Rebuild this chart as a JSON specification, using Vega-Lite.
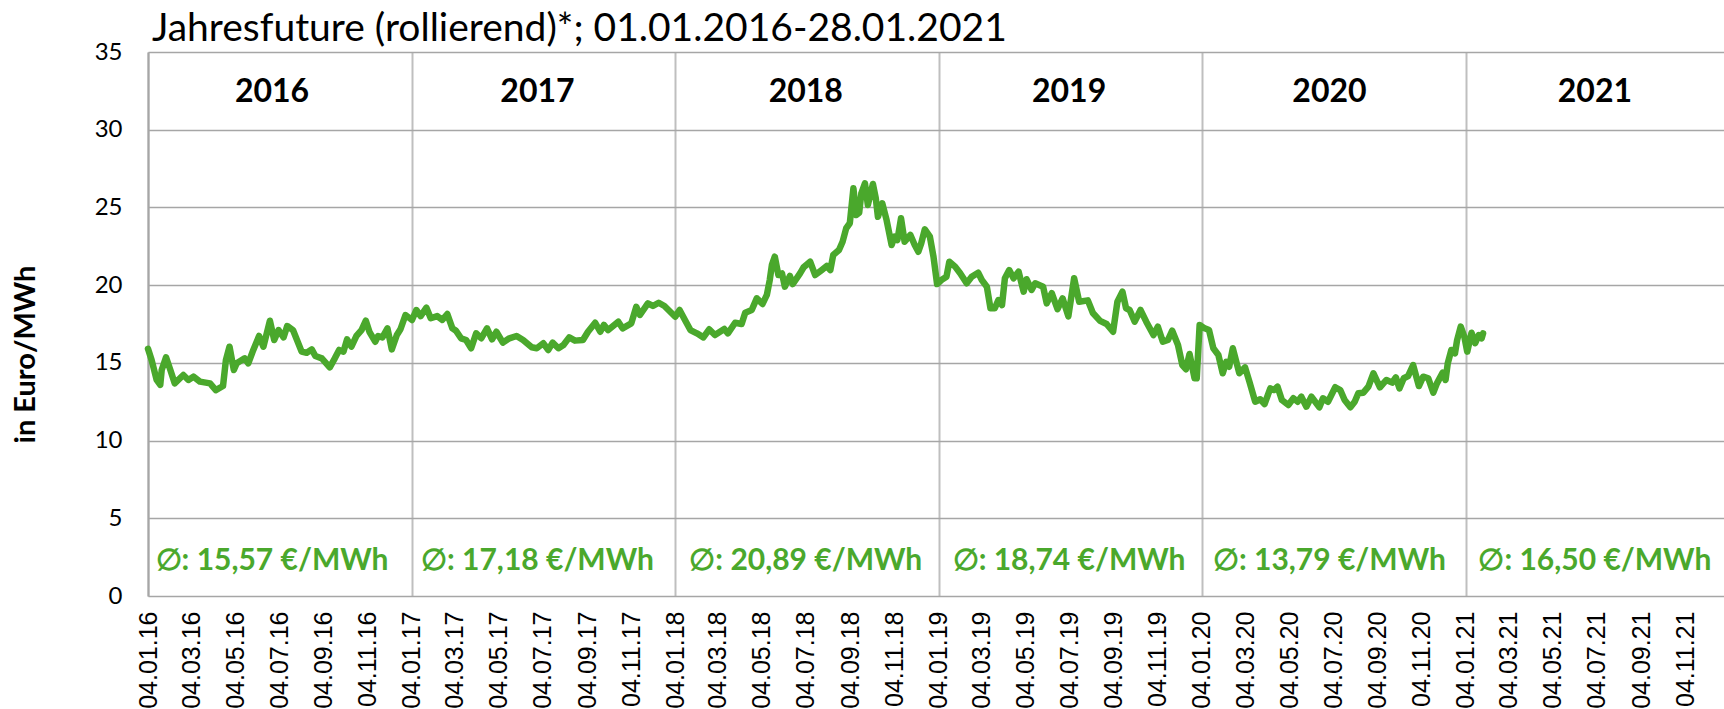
{
  "$schema": "https://vega.github.io/schema/vega-lite/v6.json",
  "width": 1576,
  "height": 544,
  "autosize": "none",
  "padding": {"left": 148, "top": 52, "right": 0, "bottom": 113},
  "background": "white",
  "config": {"view": {"stroke": null}},
  "title": {"text": "Jahresfuture (rollierend)*; 01.01.2016-28.01.2021", "anchor": "start", "frame": "group", "font": "Lato", "fontSize": 39, "fontWeight": "normal", "color": "#000000", "offset": 5, "dx": 4, "dy": 14},
  "datasets": {
    "prices": [
      {"date":"2016-01-04","price":15.9},{"date":"2016-01-09","price":15.18},{"date":"2016-01-16","price":13.9},{"date":"2016-01-21","price":13.58},{"date":"2016-01-23","price":14.54},{"date":"2016-01-29","price":15.36},{"date":"2016-02-04","price":14.54},{"date":"2016-02-10","price":13.68},{"date":"2016-02-22","price":14.22},{"date":"2016-02-29","price":13.9},{"date":"2016-03-07","price":14.11},{"date":"2016-03-16","price":13.79},{"date":"2016-03-30","price":13.68},{"date":"2016-04-07","price":13.25},{"date":"2016-04-17","price":13.51},{"date":"2016-04-21","price":15.18},{"date":"2016-04-26","price":16.04},{"date":"2016-05-02","price":14.54},{"date":"2016-05-06","price":14.97},{"date":"2016-05-17","price":15.29},{"date":"2016-05-22","price":14.97},{"date":"2016-05-29","price":15.83},{"date":"2016-06-06","price":16.73},{"date":"2016-06-12","price":16.04},{"date":"2016-06-21","price":17.71},{"date":"2016-06-27","price":16.47},{"date":"2016-07-03","price":17.11},{"date":"2016-07-10","price":16.64},{"date":"2016-07-15","price":17.37},{"date":"2016-07-23","price":17.11},{"date":"2016-08-04","price":15.72},{"date":"2016-08-11","price":15.65},{"date":"2016-08-18","price":15.87},{"date":"2016-08-23","price":15.44},{"date":"2016-09-01","price":15.29},{"date":"2016-09-12","price":14.71},{"date":"2016-09-19","price":15.29},{"date":"2016-09-25","price":15.83},{"date":"2016-10-01","price":15.72},{"date":"2016-10-06","price":16.51},{"date":"2016-10-12","price":16.04},{"date":"2016-10-19","price":16.73},{"date":"2016-10-26","price":17.11},{"date":"2016-11-01","price":17.71},{"date":"2016-11-06","price":17.0},{"date":"2016-11-14","price":16.36},{"date":"2016-11-18","price":16.73},{"date":"2016-11-24","price":16.64},{"date":"2016-12-01","price":17.22},{"date":"2016-12-07","price":15.87},{"date":"2016-12-14","price":16.79},{"date":"2016-12-19","price":17.16},{"date":"2016-12-26","price":18.08},
      {"date":"2017-01-04","price":17.76},{"date":"2017-01-10","price":18.4},{"date":"2017-01-16","price":18.01},{"date":"2017-01-24","price":18.55},{"date":"2017-01-30","price":17.87},{"date":"2017-02-08","price":18.01},{"date":"2017-02-15","price":17.76},{"date":"2017-02-22","price":18.14},{"date":"2017-03-01","price":17.22},{"date":"2017-03-06","price":17.07},{"date":"2017-03-13","price":16.58},{"date":"2017-03-20","price":16.47},{"date":"2017-03-27","price":15.94},{"date":"2017-04-03","price":16.9},{"date":"2017-04-10","price":16.58},{"date":"2017-04-18","price":17.22},{"date":"2017-04-25","price":16.51},{"date":"2017-05-01","price":17.0},{"date":"2017-05-10","price":16.3},{"date":"2017-05-19","price":16.58},{"date":"2017-05-29","price":16.73},{"date":"2017-06-07","price":16.47},{"date":"2017-06-19","price":16.0},{"date":"2017-06-26","price":15.94},{"date":"2017-07-05","price":16.26},{"date":"2017-07-12","price":15.83},{"date":"2017-07-18","price":16.3},{"date":"2017-07-26","price":15.94},{"date":"2017-08-02","price":16.15},{"date":"2017-08-10","price":16.64},{"date":"2017-08-18","price":16.43},{"date":"2017-08-29","price":16.47},{"date":"2017-09-05","price":17.0},{"date":"2017-09-15","price":17.58},{"date":"2017-09-22","price":17.0},{"date":"2017-09-27","price":17.44},{"date":"2017-10-03","price":17.11},{"date":"2017-10-17","price":17.65},{"date":"2017-10-23","price":17.22},{"date":"2017-11-04","price":17.54},{"date":"2017-11-11","price":18.61},{"date":"2017-11-16","price":18.08},{"date":"2017-11-27","price":18.83},{"date":"2017-12-04","price":18.66},{"date":"2017-12-12","price":18.87},{"date":"2017-12-20","price":18.66},
      {"date":"2018-01-04","price":17.97},{"date":"2018-01-10","price":18.4},{"date":"2018-01-18","price":17.71},{"date":"2018-01-25","price":17.11},{"date":"2018-02-03","price":16.9},{"date":"2018-02-12","price":16.64},{"date":"2018-02-20","price":17.16},{"date":"2018-02-28","price":16.79},{"date":"2018-03-13","price":17.18},{"date":"2018-03-18","price":16.9},{"date":"2018-03-28","price":17.58},{"date":"2018-04-06","price":17.5},{"date":"2018-04-11","price":18.23},{"date":"2018-04-20","price":18.4},{"date":"2018-04-27","price":19.15},{"date":"2018-05-05","price":18.79},{"date":"2018-05-11","price":19.37},{"date":"2018-05-15","price":20.33},{"date":"2018-05-18","price":21.3},{"date":"2018-05-22","price":21.83},{"date":"2018-05-27","price":20.65},{"date":"2018-06-01","price":20.76},{"date":"2018-06-05","price":19.9},{"date":"2018-06-12","price":20.59},{"date":"2018-06-16","price":20.07},{"date":"2018-06-26","price":20.76},{"date":"2018-07-01","price":21.15},{"date":"2018-07-10","price":21.51},{"date":"2018-07-17","price":20.65},{"date":"2018-07-26","price":20.97},{"date":"2018-08-02","price":21.23},{"date":"2018-08-07","price":20.97},{"date":"2018-08-11","price":21.94},{"date":"2018-08-19","price":22.26},{"date":"2018-08-24","price":22.79},{"date":"2018-08-29","price":23.66},{"date":"2018-09-03","price":23.98},{"date":"2018-09-08","price":26.23},{"date":"2018-09-12","price":24.51},{"date":"2018-09-16","price":24.66},{"date":"2018-09-19","price":25.91},{"date":"2018-09-24","price":26.55},{"date":"2018-09-28","price":25.16},{"date":"2018-10-05","price":26.51},{"date":"2018-10-09","price":25.59},{"date":"2018-10-12","price":24.4},{"date":"2018-10-18","price":25.27},{"date":"2018-10-24","price":24.19},{"date":"2018-10-31","price":22.58},{"date":"2018-11-04","price":23.12},{"date":"2018-11-08","price":22.9},{"date":"2018-11-13","price":24.3},{"date":"2018-11-18","price":22.79},{"date":"2018-11-26","price":23.23},{"date":"2018-12-02","price":22.58},{"date":"2018-12-07","price":22.15},{"date":"2018-12-11","price":22.69},{"date":"2018-12-16","price":23.59},{"date":"2018-12-23","price":23.12},{"date":"2018-12-28","price":21.83},
      {"date":"2019-01-02","price":20.07},{"date":"2019-01-08","price":20.33},{"date":"2019-01-15","price":20.54},{"date":"2019-01-19","price":21.51},{"date":"2019-01-27","price":21.19},{"date":"2019-02-03","price":20.76},{"date":"2019-02-12","price":20.12},{"date":"2019-02-19","price":20.54},{"date":"2019-02-28","price":20.8},{"date":"2019-03-05","price":20.33},{"date":"2019-03-12","price":19.9},{"date":"2019-03-17","price":18.51},{"date":"2019-03-23","price":18.51},{"date":"2019-03-28","price":19.04},{"date":"2019-04-02","price":18.72},{"date":"2019-04-06","price":20.44},{"date":"2019-04-12","price":20.97},{"date":"2019-04-18","price":20.44},{"date":"2019-04-25","price":20.87},{"date":"2019-05-02","price":19.58},{"date":"2019-05-06","price":20.38},{"date":"2019-05-13","price":19.69},{"date":"2019-05-18","price":20.12},{"date":"2019-05-29","price":19.9},{"date":"2019-06-03","price":18.83},{"date":"2019-06-10","price":19.48},{"date":"2019-06-18","price":18.45},{"date":"2019-06-25","price":19.15},{"date":"2019-07-03","price":17.99},{"date":"2019-07-11","price":20.44},{"date":"2019-07-18","price":18.93},{"date":"2019-07-30","price":19.02},{"date":"2019-08-06","price":18.21},{"date":"2019-08-16","price":17.7},{"date":"2019-08-25","price":17.5},{"date":"2019-09-03","price":17.0},{"date":"2019-09-09","price":18.93},{"date":"2019-09-16","price":19.58},{"date":"2019-09-21","price":18.51},{"date":"2019-09-26","price":18.4},{"date":"2019-10-03","price":17.65},{"date":"2019-10-11","price":18.4},{"date":"2019-10-19","price":17.65},{"date":"2019-10-29","price":16.79},{"date":"2019-11-04","price":17.33},{"date":"2019-11-11","price":16.36},{"date":"2019-11-18","price":16.47},{"date":"2019-11-24","price":17.07},{"date":"2019-12-02","price":16.15},{"date":"2019-12-08","price":14.86},{"date":"2019-12-13","price":14.59},{"date":"2019-12-18","price":15.57},{"date":"2019-12-25","price":14.01},{"date":"2019-12-28","price":14.01},
      {"date":"2020-01-01","price":17.44},{"date":"2020-01-08","price":17.22},{"date":"2020-01-14","price":17.11},{"date":"2020-01-20","price":15.94},{"date":"2020-01-27","price":15.51},{"date":"2020-02-02","price":14.33},{"date":"2020-02-07","price":15.07},{"date":"2020-02-11","price":14.75},{"date":"2020-02-16","price":15.94},{"date":"2020-02-25","price":14.33},{"date":"2020-03-04","price":14.71},{"date":"2020-03-10","price":13.79},{"date":"2020-03-18","price":12.5},{"date":"2020-03-25","price":12.66},{"date":"2020-03-31","price":12.35},{"date":"2020-04-08","price":13.36},{"date":"2020-04-13","price":13.25},{"date":"2020-04-18","price":13.47},{"date":"2020-04-24","price":12.61},{"date":"2020-05-03","price":12.29},{"date":"2020-05-10","price":12.72},{"date":"2020-05-16","price":12.5},{"date":"2020-05-21","price":12.82},{"date":"2020-05-28","price":12.18},{"date":"2020-06-04","price":12.82},{"date":"2020-06-15","price":12.14},{"date":"2020-06-20","price":12.72},{"date":"2020-06-27","price":12.5},{"date":"2020-07-07","price":13.43},{"date":"2020-07-14","price":13.25},{"date":"2020-07-20","price":12.61},{"date":"2020-07-28","price":12.14},{"date":"2020-08-03","price":12.5},{"date":"2020-08-08","price":13.04},{"date":"2020-08-15","price":13.08},{"date":"2020-08-22","price":13.47},{"date":"2020-08-29","price":14.33},{"date":"2020-09-07","price":13.43},{"date":"2020-09-16","price":13.9},{"date":"2020-09-24","price":13.73},{"date":"2020-09-29","price":14.07},{"date":"2020-10-04","price":13.36},{"date":"2020-10-10","price":14.01},{"date":"2020-10-16","price":14.15},{"date":"2020-10-23","price":14.86},{"date":"2020-10-31","price":13.51},{"date":"2020-11-06","price":14.11},{"date":"2020-11-13","price":14.01},{"date":"2020-11-20","price":13.08},{"date":"2020-11-25","price":13.68},{"date":"2020-12-03","price":14.37},{"date":"2020-12-07","price":13.9},{"date":"2020-12-10","price":14.97},{"date":"2020-12-15","price":15.83},{"date":"2020-12-20","price":15.61},{"date":"2020-12-23","price":16.47},{"date":"2020-12-28","price":17.33},
      {"date":"2021-01-02","price":16.68},{"date":"2021-01-06","price":15.72},{"date":"2021-01-12","price":16.94},{"date":"2021-01-17","price":16.26},{"date":"2021-01-22","price":16.79},{"date":"2021-01-26","price":16.58},{"date":"2021-01-28","price":16.9}
    ],
    "years": [
      {"date":"2016-06-24","year":"2016","avg":"∅: 15,57 €/MWh"},
      {"date":"2017-06-27","year":"2017","avg":"∅: 17,18 €/MWh"},
      {"date":"2018-07-04","year":"2018","avg":"∅: 20,89 €/MWh"},
      {"date":"2019-07-04","year":"2019","avg":"∅: 18,74 €/MWh"},
      {"date":"2020-06-29","year":"2020","avg":"∅: 13,79 €/MWh"},
      {"date":"2021-07-02","year":"2021","avg":"∅: 16,50 €/MWh"}
    ]
  },
  "encoding": {
    "x": {
      "field": "date", "type": "temporal",
      "scale": {"type": "utc", "domain": [{"year":2016,"month":1,"date":4,"utc":true}, {"year":2021,"month":12,"date":28,"utc":true}], "nice": false},
      "axis": {
        "title": null, "orient": "bottom", "ticks": false, "domain": false,
        "grid": true, "gridColor": "#bfbfbf", "gridWidth": 2,
        "gridOpacity": {"condition": {"test": "utcmonth(datum.value) == 0", "value": 1}, "value": 0},
        "labelAngle": -90, "labelFont": "Liberation Sans", "labelFontSize": 25, "labelColor": "#000000",
        "labelPadding": 15, "labelOverlap": false, "labelFlush": false,
        "labelExpr": "utcFormat(datum.value, '%d.%m.%y')",
        "values": [
          {"year":2016,"month":1,"date":4,"utc":true},{"year":2016,"month":3,"date":4,"utc":true},{"year":2016,"month":5,"date":4,"utc":true},{"year":2016,"month":7,"date":4,"utc":true},{"year":2016,"month":9,"date":4,"utc":true},{"year":2016,"month":11,"date":4,"utc":true},
          {"year":2017,"month":1,"date":4,"utc":true},{"year":2017,"month":3,"date":4,"utc":true},{"year":2017,"month":5,"date":4,"utc":true},{"year":2017,"month":7,"date":4,"utc":true},{"year":2017,"month":9,"date":4,"utc":true},{"year":2017,"month":11,"date":4,"utc":true},
          {"year":2018,"month":1,"date":4,"utc":true},{"year":2018,"month":3,"date":4,"utc":true},{"year":2018,"month":5,"date":4,"utc":true},{"year":2018,"month":7,"date":4,"utc":true},{"year":2018,"month":9,"date":4,"utc":true},{"year":2018,"month":11,"date":4,"utc":true},
          {"year":2019,"month":1,"date":4,"utc":true},{"year":2019,"month":3,"date":4,"utc":true},{"year":2019,"month":5,"date":4,"utc":true},{"year":2019,"month":7,"date":4,"utc":true},{"year":2019,"month":9,"date":4,"utc":true},{"year":2019,"month":11,"date":4,"utc":true},
          {"year":2020,"month":1,"date":4,"utc":true},{"year":2020,"month":3,"date":4,"utc":true},{"year":2020,"month":5,"date":4,"utc":true},{"year":2020,"month":7,"date":4,"utc":true},{"year":2020,"month":9,"date":4,"utc":true},{"year":2020,"month":11,"date":4,"utc":true},
          {"year":2021,"month":1,"date":4,"utc":true},{"year":2021,"month":3,"date":4,"utc":true},{"year":2021,"month":5,"date":4,"utc":true},{"year":2021,"month":7,"date":4,"utc":true},{"year":2021,"month":9,"date":4,"utc":true},{"year":2021,"month":11,"date":4,"utc":true}
        ]
      }
    }
  },
  "layer": [
    {
      "data": {"name": "prices"},
      "mark": {"type": "line", "color": "#4aa82c", "strokeWidth": 6.5, "strokeJoin": "round", "strokeCap": "round"},
      "encoding": {
        "y": {
          "field": "price", "type": "quantitative",
          "scale": {"domain": [0, 35], "nice": false, "zero": true},
          "axis": {
            "values": [0, 5, 10, 15, 20, 25, 30, 35],
            "grid": true, "gridColor": "#a6a6a6", "gridWidth": 1.5,
            "domain": true, "domainColor": "#a6a6a6", "domainWidth": 2,
            "ticks": false, "labelFont": "Lato", "labelFontSize": 24, "labelColor": "#000000", "labelPadding": 26,
            "title": "in Euro/MWh", "titleFont": "Lato", "titleFontSize": 29, "titleFontWeight": "bold", "titleColor": "#000000",
            "titleAngle": -90, "titleX": -123, "titleY": 302, "titleAlign": "center", "titleBaseline": "middle"
          }
        }
      }
    },
    {
      "data": {"name": "years"},
      "mark": {"type": "text", "font": "Lato", "fontSize": 32, "fontWeight": "bold", "color": "#000000", "baseline": "middle", "align": "center"},
      "encoding": {
        "y": {"datum": 32.4, "type": "quantitative"},
        "text": {"field": "year"}
      }
    },
    {
      "data": {"name": "years"},
      "mark": {"type": "text", "font": "Lato", "fontSize": 30, "fontWeight": "bold", "color": "#4aa82c", "baseline": "middle", "align": "center"},
      "encoding": {
        "y": {"datum": 2.25, "type": "quantitative"},
        "text": {"field": "avg"}
      }
    }
  ]
}
